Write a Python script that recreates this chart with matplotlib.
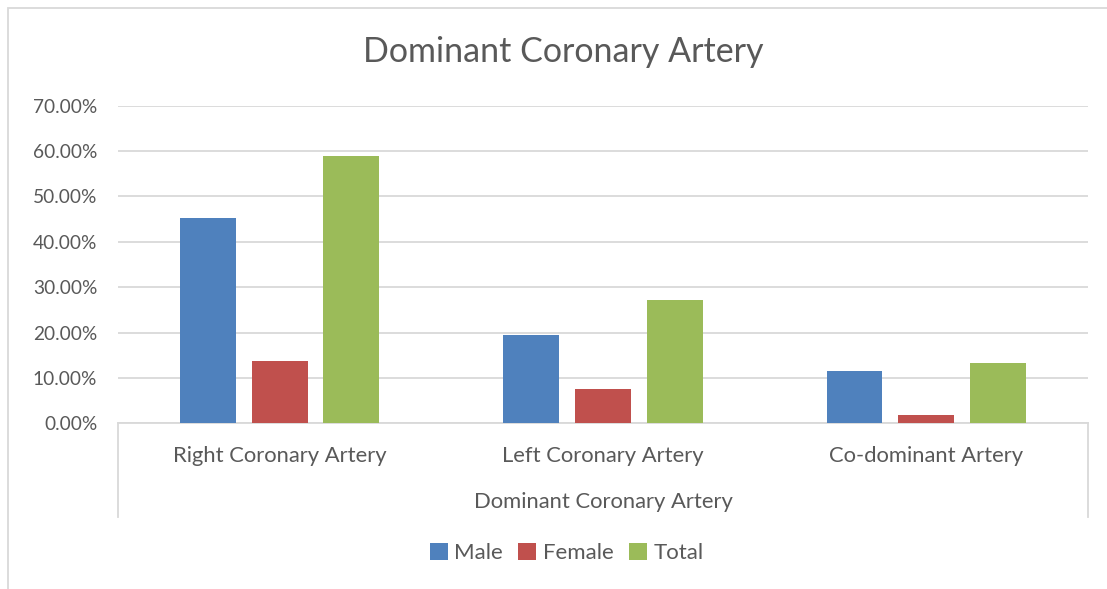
import numpy as np
import matplotlib.pyplot as plt
from matplotlib.patches import Rectangle
from matplotlib.lines import Line2D

categories = ['Right Coronary Artery', 'Left Coronary Artery', 'Co-dominant Artery']
series = ['Male', 'Female', 'Total']
male = [45.2, 19.5, 11.5]
female = [13.7, 7.6, 1.8]
total = [59.0, 27.2, 13.4]
colors = ['#4f81bd', '#c0504d', '#9bbb59']
yticks = [0, 10, 20, 30, 40, 50, 60, 70]

plt.rcParams['font.family'] = ['Lato', 'DejaVu Sans']
text_color = '#595959'
grid_color = '#d9d9d9'

fig = plt.figure(figsize=(11.07, 5.89), dpi=100)
ax = fig.add_axes([0.1066, 0.2813, 0.8762, 0.5392])

x = np.arange(len(categories))
width = 0.173
offset = 0.222
for i, (name, vals) in enumerate(zip(series, [male, female, total])):
    ax.bar(x + (i - 1) * offset, np.array(vals) / 100, width, color=colors[i],
           label=name, zorder=3)

ax.set_xlim(-0.5, len(categories) - 0.5)
ax.set_ylim(0, 0.7)
ax.set_yticks([t / 100 for t in yticks])
ax.set_yticklabels(['%.2f%%' % t for t in yticks], fontsize=13.8, color=text_color)
ax.set_xticks(x)
ax.set_xticklabels(categories, fontsize=15.8, color=text_color)
ax.tick_params(axis='both', length=0)
ax.tick_params(axis='x', pad=16)
ax.tick_params(axis='y', pad=15)
ax.grid(axis='y', color=grid_color, linewidth=1.3, zorder=0)
for s in ['top', 'right', 'left']:
    ax.spines[s].set_visible(False)
ax.spines['bottom'].set_color(grid_color)
ax.spines['bottom'].set_linewidth(1.3)

ax.set_xlabel('Dominant Coronary Artery', fontsize=15.8, color=text_color, labelpad=19)

# category axis side lines
for xa in [0.0, 1.0]:
    ax.add_line(Line2D([xa, xa], [0, -0.295], transform=ax.transAxes,
                       color=grid_color, linewidth=1.3, clip_on=False))

fig.suptitle('Dominant Coronary Artery', fontsize=24.5, color=text_color,
             x=0.509, y=0.912, va='center')

leg = fig.legend(loc='center', bbox_to_anchor=(0.512, 0.061), ncol=3, frameon=False,
                 fontsize=16, handlelength=0.8, handleheight=0.8, handletextpad=0.3,
                 columnspacing=0.7)
for t in leg.get_texts():
    t.set_color(text_color)

# chart border
fig.add_artist(Rectangle((8 / 1107, -0.1), 1.2, 1 - 8 / 589 + 0.1, transform=fig.transFigure,
                         fill=False, edgecolor=grid_color, linewidth=1.3))

fig.savefig('out.png', dpi=100)
